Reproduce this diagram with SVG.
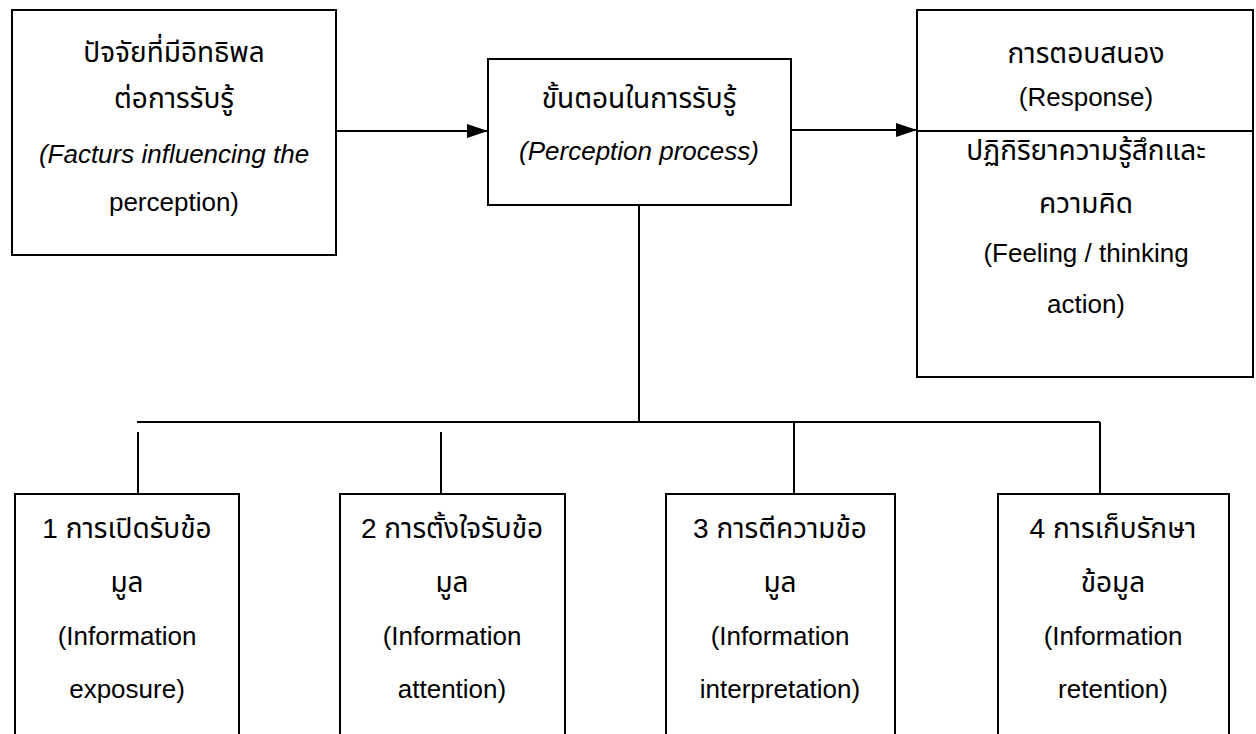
<svg xmlns="http://www.w3.org/2000/svg" width="1256" height="734" viewBox="0 0 1256 734">
  <style>
    .box { fill: #ffffff; stroke: #000000; stroke-width: 2; }
    .wire { fill: none; stroke: #000000; stroke-width: 2; }
    .t { font-family: "Liberation Sans", "Noto Sans Thai", "Noto Sans", sans-serif; font-size: 26px; fill: #000000; text-anchor: middle; }
    .th { font-size: 28px; }
    .it { font-style: italic; }
  </style>
  <defs>
    <marker id="arrowhead" markerWidth="21" markerHeight="14" refX="21" refY="7" orient="auto" markerUnits="userSpaceOnUse">
      <path d="M0,0 L21,7 L0,14 Z" fill="#000000"/>
    </marker>
  </defs>
  <rect x="0" y="0" width="1256" height="734" fill="#ffffff"/>

  <g id="connectors">
    <line class="wire" x1="336" y1="131" x2="488" y2="131" marker-end="url(#arrowhead)"/>
    <line class="wire" x1="791" y1="130" x2="917" y2="130" marker-end="url(#arrowhead)"/>
    <line class="wire" x1="639" y1="205" x2="639" y2="422"/>
    <line class="wire" x1="137" y1="422" x2="1100" y2="422"/>
    <line class="wire" x1="138" y1="432" x2="138" y2="494"/>
    <line class="wire" x1="441" y1="432" x2="441" y2="494"/>
    <line class="wire" x1="794" y1="422" x2="794" y2="494"/>
    <line class="wire" x1="1100" y1="422" x2="1100" y2="494"/>
  </g>

  <g id="influencing-factors">
    <rect class="box" x="12" y="10" width="324" height="245"/>
    <text class="t th" x="174" y="62">ปัจจัยที่มีอิทธิพล</text>
    <text class="t th" x="174" y="108">ต่อการรับรู้</text>
    <text class="t it" x="174" y="163">(Facturs influencing the</text>
    <text class="t" x="174" y="211">perception)</text>
  </g>

  <g id="perception-process">
    <rect class="box" x="488" y="59" width="303" height="146"/>
    <text class="t th" x="639" y="108">ขั้นตอนในการรับรู้</text>
    <text class="t it" x="639" y="160">(Perception process)</text>
  </g>

  <g id="response">
    <rect class="box" x="917" y="10" width="336" height="367"/>
    <line class="wire" x1="917" y1="131" x2="1253" y2="131"/>
    <text class="t th" x="1086" y="63">การตอบสนอง</text>
    <text class="t" x="1086" y="106">(Response)</text>
    <text class="t th" x="1086" y="160">ปฏิกิริยาความรู้สึกและ</text>
    <text class="t th" x="1086" y="213">ความคิด</text>
    <text class="t" x="1086" y="262">(Feeling / thinking</text>
    <text class="t" x="1086" y="313">action)</text>
  </g>

  <g id="step-exposure">
    <rect class="box" x="15" y="494" width="224" height="250"/>
    <text class="t th" x="127" y="538">1  การเปิดรับข้อ</text>
    <text class="t th" x="127" y="592">มูล</text>
    <text class="t" x="127" y="645">(Information</text>
    <text class="t" x="127" y="698">exposure)</text>
  </g>

  <g id="step-attention">
    <rect class="box" x="340" y="494" width="225" height="250"/>
    <text class="t th" x="452" y="538">2  การตั้งใจรับข้อ</text>
    <text class="t th" x="452" y="592">มูล</text>
    <text class="t" x="452" y="645">(Information</text>
    <text class="t" x="452" y="698">attention)</text>
  </g>

  <g id="step-interpretation">
    <rect class="box" x="666" y="494" width="229" height="250"/>
    <text class="t th" x="780" y="538">3  การตีความข้อ</text>
    <text class="t th" x="780" y="592">มูล</text>
    <text class="t" x="780" y="645">(Information</text>
    <text class="t" x="780" y="698">interpretation)</text>
  </g>

  <g id="step-retention">
    <rect class="box" x="998" y="494" width="231" height="250"/>
    <text class="t th" x="1113" y="538">4  การเก็บรักษา</text>
    <text class="t th" x="1113" y="592">ข้อมูล</text>
    <text class="t" x="1113" y="645">(Information</text>
    <text class="t" x="1113" y="698">retention)</text>
  </g>
</svg>
